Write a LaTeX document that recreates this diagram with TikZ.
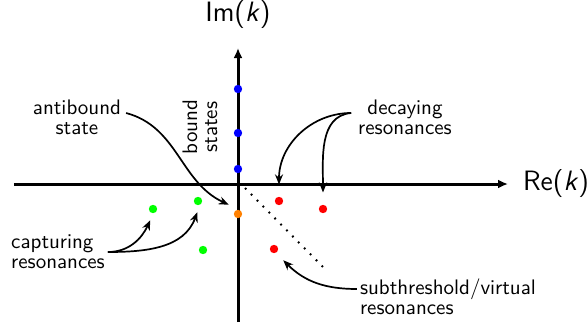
\documentclass[tikz,border=0pt]{standalone}
\usepackage{tikz}
\usetikzlibrary{arrows.meta}

\newcommand*{\xmin}{-224}
\newcommand*{\xmax}{270}
\newcommand*{\ymin}{-138}
\newcommand*{\ymax}{136}

\begin{document}
\begin{tikzpicture}
[
	x=0.5pt, y=0.5pt,
	pole/.style={circle,fill,inner sep=0pt,minimum size=4.2pt},
	axis/.style={line width=1.5pt,-{Latex[length=5pt,width=4.5pt]}},
	note/.style={font=\sffamily\fontsize{10.5}{10}\selectfont},
	pointer/.style={line width=0.85pt,-{Stealth[length=5pt,width=4pt]}},
	axislabel/.style={font=\sffamily\fontsize{14}{16}\selectfont}
]
	\useasboundingbox (-238,-138) rectangle (350,184);

	% axes
	\draw[axis] (\xmin,0) -- (\xmax,0) coordinate (reend);
	\draw[axis] (0,\ymin) -- (0,\ymax) coordinate (imend);
	\node[axislabel,right=4pt] (re) at (reend) {Re(\textit{k})};
	\node[axislabel,above=6pt] (im) at (imend) {Im(\textit{k})};

	% threshold
	\coordinate (thra) at (7,-4);
	\coordinate (thrb) at (87,-85);
	\draw[line width=1pt,dash pattern=on 0.9pt off 3.3pt] (thra) -- (thrb);

	% poles
	\node[pole,blue] (b1) at (0,95) {};
	\node[pole,blue] (b2) at (0,51) {};
	\node[pole,blue] (b3) at (0,15) {};
	\node[pole,orange] (ab) at (0,-30) {};
	\node[pole,red] (d1) at (41,-17) {};
	\node[pole,red] (d2) at (85,-25) {};
	\node[pole,red] (v1) at (36,-65) {};
	\node[pole,green] (c1) at (-85,-25) {};
	\node[pole,green] (c2) at (-40,-17) {};
	\node[pole,green] (c3) at (-35,-66) {};

	% labels
	\node[note,align=center] (antibound) at (-161,67) {antibound\\state};
	\node[note,align=center,rotate=90] (bound) at (-38,57) {bound\\states};
	\node[note,align=center] (decaying) at (167,67) {decaying\\resonances};
	\node[note,align=left] (capturing) at (-180,-68) {capturing\\resonances};
	\node[note,align=left] (virtual) at (210,-113) {subthreshold/virtual\\resonances};

	% pointers
	\draw[pointer] ([xshift=-1pt,yshift=2pt]antibound.east) to[out=-15,in=155] ([xshift=-3pt,yshift=3pt]ab.north west);
	\draw[pointer] ([yshift=2pt]decaying.west) to[out=180,in=90] ([yshift=6pt]d1.north);
	\draw[pointer] ([yshift=2pt]decaying.west) to[out=185,in=90] ([yshift=6pt]d2.north);
	\draw[pointer] ([xshift=-2pt]capturing.east) to[out=0,in=-115] ([xshift=-3pt,yshift=-4pt]c1.south east);
	\draw[pointer] ([xshift=-2pt]capturing.east) to[out=0,in=-110] ([xshift=-2pt,yshift=-4pt]c2.south east);
	\draw[pointer] ([xshift=2pt,yshift=4pt]virtual.west) to[out=180,in=-45] ([xshift=3pt,yshift=-4pt]v1.south east);

\end{tikzpicture}
\end{document}
